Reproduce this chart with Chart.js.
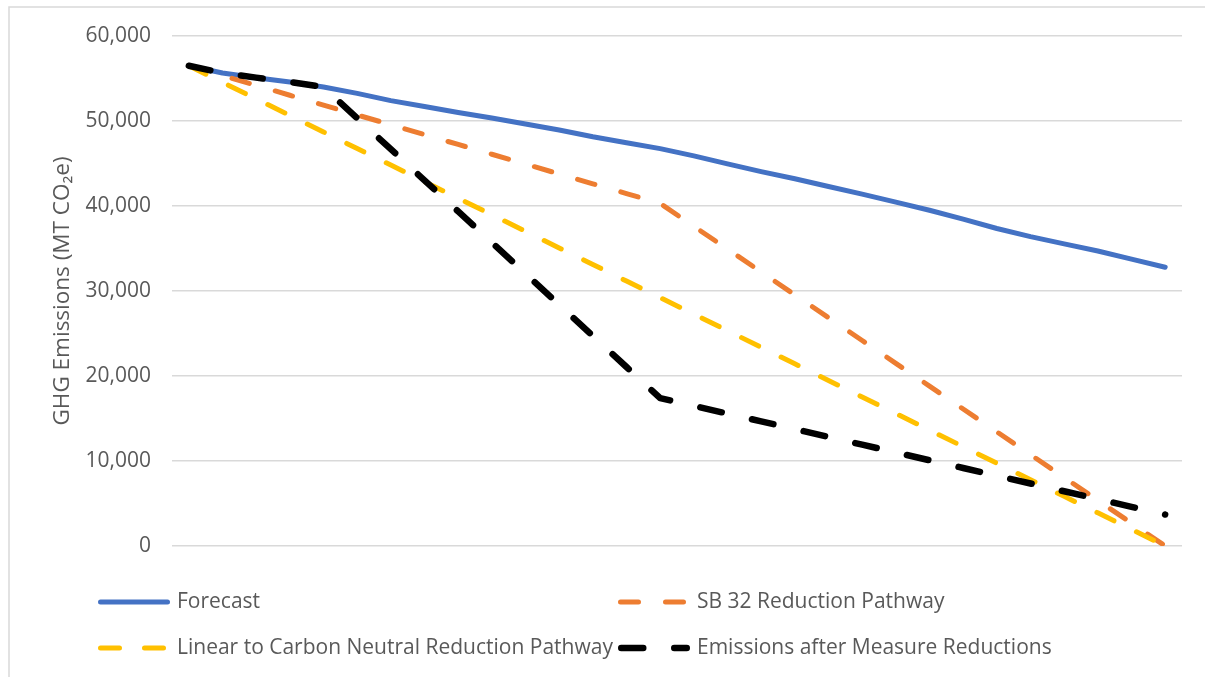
<!DOCTYPE html>
<html><head><meta charset="utf-8">
<script src="https://cdn.jsdelivr.net/npm/chart.js@4"></script>
<style>html,body{margin:0;padding:0;background:#fff}#wrap{position:relative;width:1205px;height:677px}</style>
</head><body><div id="wrap"><canvas id="c" width="1205" height="677"></canvas></div>
<script>
const years = ['2016','2017','2018','2019','2020','2021','2022','2023','2024','2025','2026','2027','2028','2029','2030','2031','2032','2033','2034','2035','2036','2037','2038','2039','2040','2041','2042','2043','2044','2045'];
const forecast = [56500,55650,55100,54600,54000,53250,52400,51700,51000,50350,49650,48950,48150,47450,46750,45900,44950,44050,43200,42300,41400,40450,39500,38450,37350,36400,35550,34700,33750,32800];
const sb32 = [56500,55340,54190,53030,51870,50710,49560,48400,47240,46090,44930,43770,42610,41460,40300,37610,34930,32240,29550,26870,24180,21490,18810,16120,13430,10750,8060,5370,2690,0];
const linearCN = [56500,54550,52600,50660,48710,46760,44810,42860,40910,38970,37020,35070,33120,31170,29220,27280,25330,23380,21430,19480,17530,15590,13640,11690,9740,7790,5840,3900,1950,0];
const measures = [56500,55650,55100,54600,54000,50340,46680,43020,39360,35700,32040,28380,24720,21060,17400,16490,15570,14660,13750,12830,11920,11010,10090,9180,8270,7350,6440,5530,4610,3700];
const seriesNames = ['Forecast','SB 32 Reduction Pathway','Linear to Carbon Neutral Reduction Pathway','Emissions after Measure Reductions'];
const yAxisTitle = 'GHG Emissions (MT CO\u2082e)';
const yMin = 0, yMax = 60000, yStep = 10000;

const FONT = "'Open Sans', 'Noto Sans', sans-serif";
const GRAY = '#595959';
Chart.defaults.font.family = FONT;
Chart.defaults.font.size = 21;
Chart.defaults.color = GRAY;

const frame = {
  id: 'frame',
  beforeDraw(chart) {
    const ctx = chart.ctx;
    ctx.save();
    ctx.fillStyle = '#fff';
    ctx.fillRect(0, 0, chart.width, chart.height);
    ctx.strokeStyle = '#d9d9d9';
    ctx.lineWidth = 1.5;
    ctx.strokeRect(9, 7, chart.width + 20, chart.height + 20);
    ctx.restore();
  }
};

const xlLegend = {
  id: 'xlLegend',
  afterDraw(chart) {
    const ctx = chart.ctx;
    const ca = chart.chartArea;
    const col1 = ca.left - 74, col2 = ca.left + 446;
    const row1 = ca.bottom + 56, row2 = ca.bottom + 102;
    const pos = [[col1, row1], [col2, row1], [col1, row2], [col2, row2]];
    ctx.save();
    chart.data.datasets.forEach((ds, i) => {
      const [x, y] = pos[i];
      const w = ds.borderWidth;
      ctx.strokeStyle = ds.borderColor;
      ctx.lineWidth = w;
      ctx.lineCap = 'round';
      ctx.setLineDash(ds.borderDash || []);
      ctx.beginPath();
      ctx.moveTo(x + w / 2, y);
      ctx.lineTo(x + 72 - w / 2, y);
      ctx.stroke();
      ctx.setLineDash([]);
      ctx.fillStyle = GRAY;
      ctx.font = '21px ' + FONT;
      ctx.textBaseline = 'middle';
      ctx.textAlign = 'left';
      ctx.fillText(ds.label, x + 79, y);
    });
    ctx.restore();
  }
};

const common = { pointRadius: 0, pointHoverRadius: 0, tension: 0, fill: false, borderCapStyle: 'round', borderJoinStyle: 'round' };

new Chart(document.getElementById('c'), {
  type: 'line',
  data: {
    labels: years,
    datasets: [
      Object.assign({ label: seriesNames[0], data: forecast, borderColor: '#4472C4', borderWidth: 5, order: 4 }, common),
      Object.assign({ label: seriesNames[1], data: sb32, borderColor: '#ED7D31', borderWidth: 5, borderDash: [18, 27], order: 3 }, common),
      Object.assign({ label: seriesNames[2], data: linearCN, borderColor: '#FFC000', borderWidth: 5, borderDash: [19, 25], order: 2 }, common),
      Object.assign({ label: seriesNames[3], data: measures, borderColor: '#000000', borderWidth: 6.5, borderDash: [22, 31], order: 1 }, common)
    ]
  },
  options: {
    responsive: false,
    animation: false,
    events: [],
    layout: { padding: { left: 38, right: 23, top: 36, bottom: 131 } },
    plugins: { legend: { display: false }, tooltip: { enabled: false } },
    scales: {
      x: { display: false, offset: true, grid: { display: false } },
      y: {
        min: yMin, max: yMax,
        afterFit(scale) { scale.width = 134; },
        border: { display: false },
        grid: { color: '#d9d9d9', lineWidth: 1.5, drawTicks: false },
        ticks: { stepSize: yStep, padding: 21, color: GRAY, font: { size: 21 } },
        title: { display: true, text: yAxisTitle, color: GRAY, font: { size: 22.5 }, padding: { top: 11, bottom: 0 } }
      }
    }
  },
  plugins: [frame, xlLegend]
});
</script></body></html>
